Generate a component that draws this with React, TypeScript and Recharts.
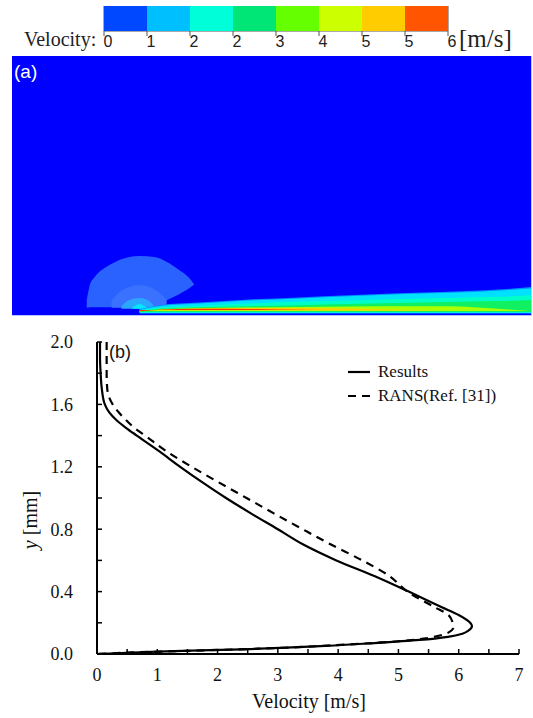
import React from "react";
import {
  BarChart,
  Bar,
  ComposedChart,
  Area,
  LineChart,
  Line,
  XAxis,
  YAxis,
  Legend,
  ReferenceArea,
} from "recharts";

// ---- colour bar (panel a) ----
const COLORBAR_LEVELS = [0, 0.75, 1.5, 2.25, 3, 3.75, 4.5, 5.25, 6];
const COLORBAR_LABELS = ["0", "1", "2", "2", "3", "4", "5", "5", "6"];
const COLORBAR_COLORS = [
  "#0048ff",
  "#00bfff",
  "#00ffd8",
  "#00e676",
  "#66ff00",
  "#ccff00",
  "#ffcc00",
  "#ff5500",
];

// ---- velocity field (panel a), normalised units: x 0..100, y 0..50 ----
const DOME_X = [14.4, 15.0, 15.9, 17.9, 19.8, 22.6, 24.6, 27.4, 30.3, 32.2, 34.2, 35.1];
const DOME_TOP = [2.9, 5.8, 7.3, 9.1, 10.2, 11.2, 11.4, 11.2, 10.0, 8.7, 7.1, 5.9];
const DOME_LOW = [1.4, 1.5, 1.5, 1.5, 1.5, 1.5, 1.5, 1.7, 3.1, 4.0, 5.2, 5.9];

const INNER_X = [19.2, 20.7, 22.6, 24.6, 26.5, 28.4, 29.8];
const INNER_TOP = [2.9, 4.4, 5.4, 5.8, 5.4, 4.3, 2.9];

const CORE_X = [21.1, 22.6, 24.6, 26.1, 27.4];
const CORE_TOP = [1.7, 2.9, 3.3, 2.9, 1.7];

const NOZZLE_X = [23.2, 24.6, 25.9];
const NOZZLE_TOP = [1.4, 2.1, 1.4];

const JET_X = [24.6, 28.4, 36.1, 45.7, 55.3, 64.9, 74.5, 84.1, 93.7, 100];
const JET_OUTER = [1.1, 1.9, 2.4, 3.0, 3.4, 3.8, 4.2, 4.5, 4.9, 5.4];
const JET_CYAN = [1.0, 1.7, 2.2, 2.8, 3.2, 3.6, 4.0, 4.3, 4.7, 5.1];
const JET_AQUA = [0.8, 1.4, 1.8, 2.2, 2.6, 2.8, 3.1, 3.3, 3.5, 3.8];
const JET_GREEN = [0.8, 1.2, 1.5, 1.7, 1.9, 2.1, 2.3, 2.5, 2.7, 2.9];
const JET_LIME = [0.7, 1.0, 1.3, 1.45, 1.55, 1.65, 1.7, 1.7, 1.2, 0.75];
const JET_YELLOW = [0.7, 1.0, 1.25, 1.35, 1.35, 1.25, 1.0, 0.85, null, null];
const JET_RED = [0.7, 1.0, 1.2, 1.15, 1.0, 0.95, null, null, null, null];

// ---- velocity profile (panel b) ----
const RESULTS_Y = [2.0, 1.9, 1.8, 1.7, 1.6, 1.55, 1.5, 1.45, 1.4, 1.3, 1.2, 1.1, 1.0, 0.9, 0.8, 0.7, 0.6, 0.5, 0.4, 0.3, 0.25, 0.2, 0.18, 0.15, 0.13, 0.11, 0.09, 0.07, 0.05, 0.03, 0.015, 0];
const RESULTS_V = [0.05, 0.05, 0.06, 0.08, 0.13, 0.2, 0.32, 0.48, 0.66, 1.03, 1.38, 1.75, 2.14, 2.56, 3.0, 3.43, 3.97, 4.6, 5.17, 5.72, 6.0, 6.19, 6.22, 6.16, 6.06, 5.82, 5.35, 4.6, 3.7, 2.4, 1.0, 0];

const RANS_Y = [2.0, 1.9, 1.8, 1.7, 1.6, 1.55, 1.5, 1.45, 1.4, 1.3, 1.2, 1.1, 1.0, 0.9, 0.8, 0.7, 0.6, 0.5, 0.4, 0.3, 0.25, 0.2, 0.17, 0.14, 0.12, 0.1, 0.08, 0.06, 0.04, 0.02, 0.01, 0];
const RANS_V = [0.16, 0.16, 0.16, 0.17, 0.26, 0.36, 0.48, 0.62, 0.8, 1.15, 1.57, 2.02, 2.48, 2.94, 3.41, 3.89, 4.4, 4.85, 5.15, 5.6, 5.83, 5.9, 5.91, 5.84, 5.7, 5.45, 4.95, 4.1, 3.1, 1.5, 0.6, 0];

const SERIES_ORDER = ["Results", "RANS(Ref. [31])"];

const X_TICKS = [0, 0.5, 1, 1.5, 2, 2.5, 3, 3.5, 4, 4.5, 5, 5.5, 6, 6.5, 7];
const X_LABELED = [0, 1, 2, 3, 4, 5, 6, 7];
const Y_TICKS = [0, 0.2, 0.4, 0.6, 0.8, 1.0, 1.2, 1.4, 1.6, 1.8, 2.0];
const Y_LABELED = [0, 0.4, 0.8, 1.2, 1.6, 2.0];

const SERIF = "'Liberation Serif', 'Times New Roman', serif";
const SANS = "'Liberation Sans', Arial, sans-serif";

const colorbarRow = [
  COLORBAR_COLORS.reduce(
    (row, _c, i) => ({ ...row, [`s${i}`]: COLORBAR_LEVELS[i + 1] - COLORBAR_LEVELS[i] }),
    { name: "Velocity" } as Record<string, number | string>
  ),
];

const domeData = DOME_X.map((x, i) => ({ x, band: [DOME_LOW[i], DOME_TOP[i]] }));
const innerData = INNER_X.map((x, i) => ({ x, band: [1.4, INNER_TOP[i]] }));
const coreData = CORE_X.map((x, i) => ({ x, band: [1.2, CORE_TOP[i]] }));
const nozzleData = NOZZLE_X.map((x, i) => ({ x, band: [1.2, NOZZLE_TOP[i]] }));

const range = (low: number, top: number | null) => (top == null ? null : [low, top]);
const jetData = JET_X.map((x, i) => ({
  x,
  outer: range(0.3, JET_OUTER[i]),
  cyan: range(0.4, JET_CYAN[i]),
  aqua: range(0.5, JET_AQUA[i]),
  green: range(0.6, JET_GREEN[i]),
  lime: range(0.75, JET_LIME[i]),
  yellow: range(0.85, JET_YELLOW[i]),
  red: range(0.95, JET_RED[i]),
}));

const resultsData = RESULTS_Y.map((y, i) => ({ y, v: RESULTS_V[i] }));
const ransData = RANS_Y.map((y, i) => ({ y, v: RANS_V[i] }));

const FIELD_W = 519;
const FIELD_H = 259;

function FieldLayer({ data, layers }: { data: any[]; layers: { key: string; color: string }[] }) {
  return (
    <div style={{ position: "absolute", left: 0, top: 0 }}>
      <ComposedChart width={FIELD_W} height={FIELD_H} data={data} margin={{ top: 0, right: 0, bottom: 0, left: 0 }}>
        <XAxis type="number" dataKey="x" domain={[0, 100]} hide />
        <YAxis type="number" domain={[0, 50]} hide />
        {layers.map((l) => (
          <Area
            key={l.key}
            type="monotone"
            dataKey={l.key}
            stroke="none"
            fill={l.color}
            fillOpacity={1}
            isAnimationActive={false}
            activeDot={false}
            dot={false}
          />
        ))}
      </ComposedChart>
    </div>
  );
}

function ProfileLegend({ payload }: any) {
  const items = [...(payload || [])].sort(
    (a: any, b: any) => SERIES_ORDER.indexOf(a.value) - SERIES_ORDER.indexOf(b.value)
  );
  return (
    <div>
      {items.map((item: any) => (
        <div key={item.value} style={{ display: "flex", alignItems: "center", height: 24 }}>
          <svg width={24} height={10}>
            <line
              x1={0}
              y1={5}
              x2={22}
              y2={5}
              stroke="#000"
              strokeWidth={2.2}
              strokeDasharray={item.payload?.strokeDasharray}
            />
          </svg>
          <span style={{ marginLeft: 6, fontFamily: SERIF, fontSize: 17, color: "#111" }}>{item.value}</span>
        </div>
      ))}
    </div>
  );
}

export default function App() {
  return (
    <div style={{ position: "absolute", left: 0, top: 0, width: 533, height: 718, background: "#fff", overflow: "hidden" }}>
      {/* colour bar */}
      <span style={{ position: "absolute", left: 24, top: 28, fontFamily: SERIF, fontSize: 20, color: "#222" }}>
        Velocity:
      </span>
      <div style={{ position: "absolute", left: 94, top: 6 }}>
        <BarChart
          layout="vertical"
          width={364}
          height={50}
          data={colorbarRow}
          margin={{ top: 0, right: 10, bottom: 0, left: 10 }}
          barCategoryGap={0}
        >
          <XAxis
            type="number"
            domain={[0, 6]}
            ticks={COLORBAR_LEVELS}
            tickFormatter={(_v: number, i: number) => COLORBAR_LABELS[i]}
            axisLine={false}
            tickLine={{ stroke: "#555" }}
            tickSize={5}
            tickMargin={0}
            height={25}
            interval={0}
            tick={{ fontFamily: SANS, fontSize: 16, fill: "#222", dx: 4 }}
          />
          <YAxis type="category" dataKey="name" hide />
          {COLORBAR_COLORS.map((c, i) => (
            <Bar key={c} dataKey={`s${i}`} stackId="bar" fill={c} isAnimationActive={false} />
          ))}
          <ReferenceArea x1={0} x2={6} fill="none" stroke="#555" strokeWidth={1} />
        </BarChart>
      </div>
      <span style={{ position: "absolute", left: 459, top: 25, fontFamily: SERIF, fontSize: 25, color: "#222" }}>
        [m/s]
      </span>

      {/* velocity field */}
      <div
        style={{
          position: "absolute",
          left: 12,
          top: 56,
          width: FIELD_W,
          height: FIELD_H,
          background: "#0000ff",
          borderBottom: "1px solid #b8c4ff",
          borderRight: "1px solid #b8c4ff",
        }}
      >
        <FieldLayer data={domeData} layers={[{ key: "band", color: "#2a62ff" }]} />
        <FieldLayer data={innerData} layers={[{ key: "band", color: "#3a72ff" }]} />
        <FieldLayer data={coreData} layers={[{ key: "band", color: "#2aa8ff" }]} />
        <FieldLayer data={nozzleData} layers={[{ key: "band", color: "#00e8ff" }]} />
        <FieldLayer
          data={jetData}
          layers={[
            { key: "outer", color: "#0090ff" },
            { key: "cyan", color: "#00e0ff" },
            { key: "aqua", color: "#00ffc8" },
            { key: "green", color: "#10f060" },
            { key: "lime", color: "#aaff00" },
            { key: "yellow", color: "#ffd000" },
            { key: "red", color: "#ff3300" },
          ]}
        />
        <span style={{ position: "absolute", left: 2, top: 5, fontFamily: SANS, fontSize: 19, color: "#fff" }}>(a)</span>
      </div>

      {/* velocity profile */}
      <div style={{ position: "absolute", left: 0, top: 330 }}>
        <LineChart layout="vertical" width={533} height={388} margin={{ top: 12, right: 14, bottom: 0, left: 0 }}>
          <XAxis
            type="number"
            domain={[0, 7]}
            ticks={X_TICKS}
            interval={0}
            tickFormatter={(v: number) => (X_LABELED.includes(v) ? String(v) : "")}
            axisLine={{ stroke: "#000", strokeWidth: 2 }}
            tickLine={{ stroke: "#000", strokeWidth: 1.5 }}
            tickSize={-5}
            tickMargin={19}
            height={64}
            tick={{ fontFamily: SERIF, fontSize: 18, fill: "#111" }}
            label={{
              content: () => (
                <text x={309} y={378} textAnchor="middle" fontFamily={SERIF} fontSize={20} fill="#111">
                  Velocity [m/s]
                </text>
              ),
            }}
          />
          <YAxis
            type="number"
            dataKey="y"
            domain={[0, 2]}
            reversed
            ticks={Y_TICKS}
            interval={0}
            tickFormatter={(v: number) => (Y_LABELED.includes(v) ? v.toFixed(1) : "")}
            axisLine={{ stroke: "#000", strokeWidth: 2 }}
            tickLine={{ stroke: "#000", strokeWidth: 1.5 }}
            tickSize={-5}
            tickMargin={29}
            width={97}
            tick={{ fontFamily: SERIF, fontSize: 18, fill: "#111" }}
            label={{
              content: () => (
                <text
                  x={30}
                  y={190}
                  transform="rotate(-90 30 190)"
                  textAnchor="middle"
                  dominantBaseline="central"
                  fontFamily={SERIF}
                  fontSize={20}
                  fill="#111"
                >
                  <tspan fontStyle="italic">y</tspan> [mm]
                </text>
              ),
            }}
          />
          <Legend
            layout="vertical"
            align="center"
            verticalAlign="middle"
            content={<ProfileLegend />}
            wrapperStyle={{ left: 348, top: 30, width: 180 }}
          />
          <Line
            name="Results"
            data={resultsData}
            dataKey="v"
            type="monotone"
            stroke="#000"
            strokeWidth={2.2}
            dot={false}
            activeDot={false}
            isAnimationActive={false}
          />
          <Line
            name="RANS(Ref. [31])"
            data={ransData}
            dataKey="v"
            type="monotone"
            stroke="#000"
            strokeWidth={2.2}
            strokeDasharray="8 6"
            dot={false}
            activeDot={false}
            isAnimationActive={false}
          />
        </LineChart>
      </div>
      <span style={{ position: "absolute", left: 109, top: 342, fontFamily: SANS, fontSize: 18, color: "#111" }}>(b)</span>
    </div>
  );
}
